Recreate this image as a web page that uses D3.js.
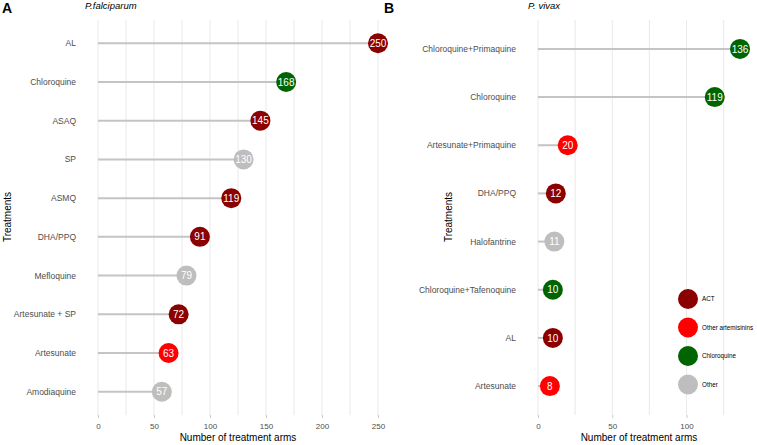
<!DOCTYPE html>
<html><head><meta charset="utf-8">
<script src="https://cdn.jsdelivr.net/npm/d3@7/dist/d3.min.js"></script>
<style>body{margin:0;background:#fff;font-family:"Liberation Sans",Arial,Helvetica,sans-serif}</style>
</head><body><svg id="c" width="757" height="445"></svg>
<script>
const catsA = ["AL","Chloroquine","ASAQ","SP","ASMQ","DHA/PPQ","Mefloquine","Artesunate + SP","Artesunate","Amodiaquine"];
const valsA = [250,168,145,130,119,91,79,72,63,57];
const grpA = ["ACT","Chloroquine","ACT","Other","ACT","ACT","Other","ACT","Other artemisinins","Other"];
const catsB = ["Chloroquine+Primaquine","Chloroquine","Artesunate+Primaquine","DHA/PPQ","Halofantrine","Chloroquine+Tafenoquine","AL","Artesunate"];
const valsB = [136,119,20,12,11,10,10,8];
const grpB = ["Chloroquine","Chloroquine","Other artemisinins","ACT","Other","Chloroquine","ACT","Other artemisinins"];
const legendLabels = ["ACT","Other artemisinins","Chloroquine","Other"];
const legendColors = ["#8B0000","#FF0000","#006400","#BEBEBE"];
const ticksA = [0,50,100,150,200,250];
const ticksB = [0,50,100];

const svg = d3.select("#c");
const color = d3.scaleOrdinal().domain(legendLabels).range(legendColors);

function panel(o){
  const g = svg.append("g");
  const x = d3.scaleLinear().domain([0,o.max]).range([o.x0,o.x1]);
  const y = d3.scalePoint().domain(o.cats).range([o.yTop,o.yBot]).padding(0.6);
  g.selectAll(".grid").data(d3.range(0,o.max+0.001,25)).join("line")
    .attr("x1",d=>x(d)).attr("x2",d=>x(d)).attr("y1",20).attr("y2",415)
    .attr("stroke","#e3e3e3").attr("stroke-width",0.8);
  const ax = g.append("g").attr("transform","translate(0,415)")
    .call(d3.axisBottom(x).tickValues(o.ticks).tickSize(3).tickPadding(5));
  ax.select(".domain").remove();
  ax.selectAll(".tick line").attr("stroke","#cccccc");
  ax.selectAll(".tick text").attr("fill","#4d4d4d").attr("font-size",8).attr("font-family","Liberation Sans, Arial, sans-serif");
  g.selectAll(".cat").data(o.cats).join("text")
    .attr("x",o.x0-22).attr("y",d=>y(d)).attr("dy","0.35em").attr("text-anchor","end")
    .attr("font-size",8.5).attr("fill","#4d4d4d").text(d=>d);
  g.selectAll(".seg").data(o.vals).join("line")
    .attr("x1",x(0)).attr("x2",d=>x(d)).attr("y1",(d,i)=>y(o.cats[i])).attr("y2",(d,i)=>y(o.cats[i]))
    .attr("stroke","#c4c4c4").attr("stroke-width",2);
  g.selectAll(".pt").data(o.vals).join("circle")
    .attr("cx",d=>x(d)).attr("cy",(d,i)=>y(o.cats[i])).attr("r",10)
    .attr("fill",(d,i)=>color(o.grp[i]));
  g.selectAll(".lab").data(o.vals).join("text")
    .attr("x",d=>x(d)).attr("y",(d,i)=>y(o.cats[i])).attr("dy","0.36em").attr("text-anchor","middle")
    .attr("font-size",10).attr("fill","#fff").text(d=>d);
  svg.append("text").attr("x",(o.x0+o.x1)/2).attr("y",441).attr("text-anchor","middle")
    .attr("font-size",10).attr("fill","#000").text("Number of treatment arms");
  svg.append("text").attr("transform",`translate(${o.ytx},217) rotate(-90)`).attr("text-anchor","middle")
    .attr("dy","0.35em").attr("font-size",10).attr("fill","#000").text("Treatments");
  svg.append("text").attr("x",o.lx).attr("y",13).attr("font-size",14).attr("font-weight","bold").text(o.letter);
  svg.append("text").attr("x",o.tx).attr("y",9).attr("font-size",9.5).attr("font-style","italic").text(o.title);
}

panel({cats:catsA,vals:valsA,grp:grpA,max:250,x0:98,x1:378,yTop:20,yBot:415,ticks:ticksA,ytx:7,lx:2,letter:"A",tx:85,title:"P.falciparum"});
panel({cats:catsB,vals:valsB,grp:grpB,max:136,x0:538,x1:740,yTop:20,yBot:415,ticks:ticksB,ytx:448,lx:384,letter:"B",tx:528,title:"P. vivax"});

const lg = svg.append("g");
legendLabels.forEach((l,i)=>{
  lg.append("circle").attr("cx",688).attr("cy",299+i*28.5).attr("r",10).attr("fill",legendColors[i]);
  lg.append("text").attr("x",702).attr("y",299+i*28.5).attr("dy","0.35em").attr("font-size",6.3).attr("fill","#000").text(l);
});
</script></body></html>
